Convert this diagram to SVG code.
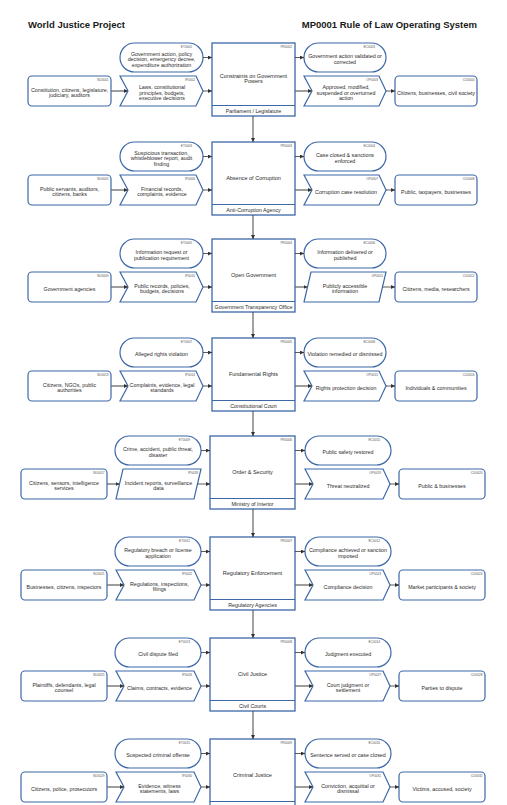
<svg xmlns="http://www.w3.org/2000/svg" width="507" height="805" viewBox="0 0 507 805">
<defs>
<marker id="a" viewBox="0 0 10 10" refX="10" refY="5" markerWidth="4" markerHeight="4" markerUnits="userSpaceOnUse" orient="auto"><path d="M0,0 L10,5 L0,10 z" fill="#333"/></marker>
<style>
.s{fill:#fff;stroke:#3d68a8;stroke-width:1.2}
.p{fill:#fff;stroke:#3d68a8;stroke-width:1.3}
.bl{stroke:#3d68a8;stroke-width:1.1}
text{font-family:"Liberation Sans",Arial,sans-serif;fill:#2b2b2b}
.t{font-size:5.3px;text-anchor:middle}
.pt{font-size:5.5px;text-anchor:middle}
.id{font-size:3.2px;text-anchor:end;fill:#555}
.h{font-size:9.5px;font-weight:bold;fill:#1a1a1a}
.c{stroke:#333;stroke-width:0.8;fill:none;marker-end:url(#a)}
.g{stroke:#6a6a6a;stroke-width:1.3;fill:none;marker-end:url(#a)}
.v{stroke:#444;stroke-width:1;fill:none;marker-end:url(#a)}
</style>
</defs>
<text class="h" x="28" y="27.5">World Justice Project</text>
<text class="h" x="477" y="27.5" text-anchor="end">MP0001 Rule of Law Operating System</text>

<!-- Section 1 -->
<g id="ET0001"><rect class="s" x="120" y="43" width="83" height="29" rx="14.5"/><text class="id" x="192" y="47.6">ET0001</text><text class="t" x="161.5" y="55.5">Government action, policy</text><text class="t" x="161.5" y="61.1">decision, emergency decree,</text><text class="t" x="161.5" y="66.7">expenditure authorization</text></g>
<g id="PR0002"><rect class="p" x="212" y="43" width="83" height="73"/><line class="bl" x1="212" y1="105.5" x2="295" y2="105.5"/><text class="id" x="292" y="47.6">PR0002</text><text class="pt" x="253.5" y="77.7">Constraints on Government</text><text class="pt" x="253.5" y="83.3">Powers</text><text class="t" x="253.5" y="112.6">Parliament / Legislature</text></g>
<g id="EC0003"><rect class="s" x="304" y="43" width="82" height="29" rx="14.5"/><text class="id" x="375" y="47.6">EC0003</text><text class="t" x="345" y="58.3">Government action validated or</text><text class="t" x="345" y="63.9">corrected</text></g>
<g id="SU0001"><rect class="s" x="28" y="76" width="83" height="30" rx="4"/><text class="id" x="108.5" y="80.6">SU0001</text><text class="t" x="69.5" y="91.8">Constitution, citizens, legislature,</text><text class="t" x="69.5" y="97.4">judiciary, auditors</text></g>
<g id="IP0002"><polygon class="s" points="120,76 196,76 203,91 196,106 120,106 128,91"/><text class="id" x="195" y="80.6">IP0002</text><text class="t" x="162" y="89">Laws, constitutional</text><text class="t" x="162" y="94.6">principles, budgets,</text><text class="t" x="162" y="100.2">executive decisions</text></g>
<g id="OP0003"><polygon class="s" points="304,76 379,76 386,91 379,106 304,106 312,91"/><text class="id" x="378" y="80.6">OP0003</text><text class="t" x="346" y="89">Approved, modified,</text><text class="t" x="346" y="94.6">suspended or overturned</text><text class="t" x="346" y="100.2">action</text></g>
<g id="CU0004"><rect class="s" x="395" y="76" width="82" height="30" rx="4"/><text class="id" x="474.5" y="80.6">CU0004</text><text class="t" x="436" y="94.6">Citizens, businesses, civil society</text></g>

<!-- Section 2 -->
<g id="ET0003"><rect class="s" x="120" y="142" width="83" height="29" rx="14.5"/><text class="id" x="192" y="146.6">ET0003</text><text class="t" x="161.5" y="154.5">Suspicious transaction,</text><text class="t" x="161.5" y="160.1">whistleblower report, audit</text><text class="t" x="161.5" y="165.7">finding</text></g>
<g id="PR0003"><rect class="p" x="212" y="142" width="83" height="73"/><line class="bl" x1="212" y1="204.5" x2="295" y2="204.5"/><text class="id" x="292" y="146.6">PR0003</text><text class="pt" x="253.5" y="179.5">Absence of Corruption</text><text class="t" x="253.5" y="211.6">Anti-Corruption Agency</text></g>
<g id="EC0004"><rect class="s" x="304" y="142" width="82" height="29" rx="14.5"/><text class="id" x="375" y="146.6">EC0004</text><text class="t" x="345" y="157.3">Case closed &amp; sanctions</text><text class="t" x="345" y="162.9">enforced</text></g>
<g id="SU0005"><rect class="s" x="28" y="175" width="83" height="30" rx="4"/><text class="id" x="108.5" y="179.6">SU0005</text><text class="t" x="69.5" y="190.8">Public servants, auditors,</text><text class="t" x="69.5" y="196.4">citizens, banks</text></g>
<g id="IP0006"><polygon class="s" points="120,175 196,175 203,190 196,205 120,205 128,190"/><text class="id" x="195" y="179.6">IP0006</text><text class="t" x="162" y="190.8">Financial records,</text><text class="t" x="162" y="196.4">complaints, evidence</text></g>
<g id="OP0007"><polygon class="s" points="304,175 379,175 386,190 379,205 304,205 312,190"/><text class="id" x="378" y="179.6">OP0007</text><text class="t" x="346" y="193.6">Corruption case resolution</text></g>
<g id="CU0008"><rect class="s" x="395" y="175" width="82" height="30" rx="4"/><text class="id" x="474.5" y="179.6">CU0008</text><text class="t" x="436" y="193.6">Public, taxpayers, businesses</text></g>

<!-- Section 3 -->
<g id="ET0005"><rect class="s" x="120" y="239" width="83" height="29" rx="14.5"/><text class="id" x="192" y="243.6">ET0005</text><text class="t" x="161.5" y="254.3">Information request or</text><text class="t" x="161.5" y="259.9">publication requirement</text></g>
<g id="PR0004"><rect class="p" x="212" y="239" width="83" height="73"/><line class="bl" x1="212" y1="301.5" x2="295" y2="301.5"/><text class="id" x="292" y="243.6">PR0004</text><text class="pt" x="253.5" y="276.5">Open Government</text><text class="t" x="253.5" y="308.6">Government Transparency Office</text></g>
<g id="EC0006"><rect class="s" x="304" y="239" width="82" height="29" rx="14.5"/><text class="id" x="375" y="243.6">EC0006</text><text class="t" x="345" y="254.3">Information delivered or</text><text class="t" x="345" y="259.9">published</text></g>
<g id="SU0009"><rect class="s" x="28" y="272" width="83" height="30" rx="4"/><text class="id" x="108.5" y="276.6">SU0009</text><text class="t" x="69.5" y="290.6">Government agencies</text></g>
<g id="IP0010"><polygon class="s" points="120,272 196,272 203,287 196,302 120,302 128,287"/><text class="id" x="195" y="276.6">IP0010</text><text class="t" x="162" y="287.8">Public records, policies,</text><text class="t" x="162" y="293.4">budgets, decisions</text></g>
<g id="OP0011"><polygon class="s" points="311,272 386,272 379,302 304,302"/><text class="id" x="383" y="276.6">OP0011</text><text class="t" x="345" y="287.8">Publicly accessible</text><text class="t" x="345" y="293.4">information</text></g>
<g id="CU0012"><rect class="s" x="395" y="272" width="82" height="30" rx="4"/><text class="id" x="474.5" y="276.6">CU0012</text><text class="t" x="436" y="290.6">Citizens, media, researchers</text></g>

<!-- Section 4 -->
<g id="ET0007"><rect class="s" x="120" y="338" width="83" height="29" rx="14.5"/><text class="id" x="192" y="342.6">ET0007</text><text class="t" x="161.5" y="356.1">Alleged rights violation</text></g>
<g id="PR0005"><rect class="p" x="212" y="338" width="83" height="73"/><line class="bl" x1="212" y1="400.5" x2="295" y2="400.5"/><text class="id" x="292" y="342.6">PR0005</text><text class="pt" x="253.5" y="375.5">Fundamental Rights</text><text class="t" x="253.5" y="407.6">Constitutional Court</text></g>
<g id="EC0008"><rect class="s" x="304" y="338" width="82" height="29" rx="14.5"/><text class="id" x="375" y="342.6">EC0008</text><text class="t" x="345" y="356.1">Violation remedied or dismissed</text></g>
<g id="SU0013"><rect class="s" x="28" y="371" width="83" height="30" rx="4"/><text class="id" x="108.5" y="375.6">SU0013</text><text class="t" x="69.5" y="386.8">Citizens, NGOs, public</text><text class="t" x="69.5" y="392.4">authorities</text></g>
<g id="IP0014"><polygon class="s" points="120,371 196,371 203,386 196,401 120,401 128,386"/><text class="id" x="195" y="375.6">IP0014</text><text class="t" x="162" y="386.8">Complaints, evidence, legal</text><text class="t" x="162" y="392.4">standards</text></g>
<g id="OP0015"><polygon class="s" points="304,371 379,371 386,386 379,401 304,401 312,386"/><text class="id" x="378" y="375.6">OP0015</text><text class="t" x="346" y="389.6">Rights protection decision</text></g>
<g id="CU0016"><rect class="s" x="395" y="371" width="82" height="30" rx="4"/><text class="id" x="474.5" y="375.6">CU0016</text><text class="t" x="436" y="389.6">Individuals &amp; communities</text></g>

<!-- Section 5 -->
<g id="ET0009"><rect class="s" x="115" y="436" width="86" height="29" rx="14.5"/><text class="id" x="190" y="440.6">ET0009</text><text class="t" x="158" y="451.3">Crime, accident, public threat,</text><text class="t" x="158" y="456.9">disaster</text></g>
<g id="PR0006"><rect class="p" x="210" y="436" width="85" height="73"/><line class="bl" x1="210" y1="498.5" x2="295" y2="498.5"/><text class="id" x="292" y="440.6">PR0006</text><text class="pt" x="252.5" y="473.5">Order &amp; Security</text><text class="t" x="252.5" y="505.6">Ministry of Interior</text></g>
<g id="EC0010"><rect class="s" x="305" y="436" width="86" height="29" rx="14.5"/><text class="id" x="380" y="440.6">EC0010</text><text class="t" x="348" y="454.1">Public safety restored</text></g>
<g id="SU0017"><rect class="s" x="21" y="469" width="86" height="30" rx="4"/><text class="id" x="104.5" y="473.6">SU0017</text><text class="t" x="64" y="484.8">Citizens, sensors, intelligence</text><text class="t" x="64" y="490.4">services</text></g>
<g id="IP0018"><polygon class="s" points="123,469 201,469 194,499 116,499"/><text class="id" x="198" y="473.6">IP0018</text><text class="t" x="158.5" y="484.8">Incident reports, surveillance</text><text class="t" x="158.5" y="490.4">data</text></g>
<g id="OP0019"><polygon class="s" points="305,469 383,469 390,484 383,499 305,499 313,484"/><text class="id" x="381" y="473.6">OP0019</text><text class="t" x="348" y="487.6">Threat neutralized</text></g>
<g id="CU0020"><rect class="s" x="399" y="469" width="86" height="30" rx="4"/><text class="id" x="482.5" y="473.6">CU0020</text><text class="t" x="442" y="487.6">Public &amp; businesses</text></g>

<!-- Section 6 -->
<g id="ET0011"><rect class="s" x="115" y="537" width="86" height="29" rx="14.5"/><text class="id" x="190" y="541.6">ET0011</text><text class="t" x="158" y="552.3">Regulatory breach or license</text><text class="t" x="158" y="557.9">application</text></g>
<g id="PR0007"><rect class="p" x="210" y="537" width="85" height="73"/><line class="bl" x1="210" y1="599.5" x2="295" y2="599.5"/><text class="id" x="292" y="541.6">PR0007</text><text class="pt" x="252.5" y="574.5">Regulatory Enforcement</text><text class="t" x="252.5" y="606.6">Regulatory Agencies</text></g>
<g id="EC0012"><rect class="s" x="305" y="537" width="86" height="29" rx="14.5"/><text class="id" x="380" y="541.6">EC0012</text><text class="t" x="348" y="552.3">Compliance achieved or sanction</text><text class="t" x="348" y="557.9">imposed</text></g>
<g id="SU0021"><rect class="s" x="21" y="570" width="86" height="30" rx="4"/><text class="id" x="104.5" y="574.6">SU0021</text><text class="t" x="64" y="588.6">Businesses, citizens, inspectors</text></g>
<g id="IP0022"><polygon class="s" points="116,570 194,570 201,585 194,600 116,600 124,585"/><text class="id" x="192" y="574.6">IP0022</text><text class="t" x="159.5" y="585.8">Regulations, inspections,</text><text class="t" x="159.5" y="591.4">filings</text></g>
<g id="OP0023"><polygon class="s" points="305,570 383,570 390,585 383,600 305,600 313,585"/><text class="id" x="381" y="574.6">OP0023</text><text class="t" x="348" y="588.6">Compliance decision</text></g>
<g id="CU0024"><rect class="s" x="399" y="570" width="86" height="30" rx="4"/><text class="id" x="482.5" y="574.6">CU0024</text><text class="t" x="442" y="588.6">Market participants &amp; society</text></g>

<!-- Section 7 -->
<g id="ET0013"><rect class="s" x="115" y="638" width="86" height="29" rx="14.5"/><text class="id" x="190" y="642.6">ET0013</text><text class="t" x="158" y="656.1">Civil dispute filed</text></g>
<g id="PR0008"><rect class="p" x="210" y="638" width="85" height="73"/><line class="bl" x1="210" y1="700.5" x2="295" y2="700.5"/><text class="id" x="292" y="642.6">PR0008</text><text class="pt" x="252.5" y="675.5">Civil Justice</text><text class="t" x="252.5" y="707.6">Civil Courts</text></g>
<g id="EC0014"><rect class="s" x="305" y="638" width="86" height="29" rx="14.5"/><text class="id" x="380" y="642.6">EC0014</text><text class="t" x="348" y="656.1">Judgment executed</text></g>
<g id="SU0025"><rect class="s" x="21" y="671" width="86" height="30" rx="4"/><text class="id" x="104.5" y="675.6">SU0025</text><text class="t" x="64" y="686.8">Plaintiffs, defendants, legal</text><text class="t" x="64" y="692.4">counsel</text></g>
<g id="IP0026"><polygon class="s" points="116,671 194,671 201,686 194,701 116,701 124,686"/><text class="id" x="192" y="675.6">IP0026</text><text class="t" x="159.5" y="689.6">Claims, contracts, evidence</text></g>
<g id="OP0027"><polygon class="s" points="305,671 383,671 390,686 383,701 305,701 313,686"/><text class="id" x="381" y="675.6">OP0027</text><text class="t" x="348" y="686.8">Court judgment or</text><text class="t" x="348" y="692.4">settlement</text></g>
<g id="CU0028"><rect class="s" x="399" y="671" width="86" height="30" rx="4"/><text class="id" x="482.5" y="675.6">CU0028</text><text class="t" x="442" y="689.6">Parties to dispute</text></g>

<!-- Section 8 -->
<g id="ET0015"><rect class="s" x="115" y="739" width="86" height="29" rx="14.5"/><text class="id" x="190" y="743.6">ET0015</text><text class="t" x="158" y="757.1">Suspected criminal offense</text></g>
<g id="PR0009"><rect class="p" x="210" y="739" width="85" height="73"/><line class="bl" x1="210" y1="801.5" x2="295" y2="801.5"/><text class="id" x="292" y="743.6">PR0009</text><text class="pt" x="252.5" y="776.5">Criminal Justice</text></g>
<g id="EC0016"><rect class="s" x="305" y="739" width="86" height="29" rx="14.5"/><text class="id" x="380" y="743.6">EC0016</text><text class="t" x="348" y="757.1">Sentence served or case closed</text></g>
<g id="SU0029"><rect class="s" x="21" y="772" width="86" height="30" rx="4"/><text class="id" x="104.5" y="776.6">SU0029</text><text class="t" x="64" y="790.6">Citizens, police, prosecutors</text></g>
<g id="IP0030"><polygon class="s" points="116,772 194,772 201,787 194,802 116,802 124,787"/><text class="id" x="192" y="776.6">IP0030</text><text class="t" x="159.5" y="787.8">Evidence, witness</text><text class="t" x="159.5" y="793.4">statements, laws</text></g>
<g id="OP0031"><polygon class="s" points="305,772 383,772 390,787 383,802 305,802 313,787"/><text class="id" x="381" y="776.6">OP0031</text><text class="t" x="348" y="787.8">Conviction, acquittal or</text><text class="t" x="348" y="793.4">dismissal</text></g>
<g id="CU0032"><rect class="s" x="399" y="772" width="86" height="30" rx="4"/><text class="id" x="482.5" y="776.6">CU0032</text><text class="t" x="442" y="790.6">Victims, accused, society</text></g>

<g id="connectors">
<!-- S1 -->
<path class="c" d="M203,57.5 H212"/><path class="c" d="M295,57.5 H304"/>
<path class="g" d="M111,91 H128"/><path class="c" d="M203,91 H212"/><path class="g" d="M295,91 H312"/><path class="c" d="M386,91 H395"/>
<path class="v" d="M253,116 V142"/>
<!-- S2 -->
<path class="c" d="M203,156.5 H212"/><path class="c" d="M295,156.5 H304"/>
<path class="g" d="M111,190 H128"/><path class="c" d="M203,190 H212"/><path class="g" d="M295,190 H312"/><path class="c" d="M386,190 H395"/>
<path class="v" d="M253,215 V239"/>
<!-- S3 -->
<path class="c" d="M203,253.5 H212"/><path class="c" d="M295,253.5 H304"/>
<path class="g" d="M111,287 H128"/><path class="c" d="M203,287 H212"/><path class="g" d="M295,287 H307.5"/><path class="c" d="M382.5,287 H395"/>
<path class="v" d="M253,312 V338"/>
<!-- S4 -->
<path class="c" d="M203,352.5 H212"/><path class="c" d="M295,352.5 H304"/>
<path class="g" d="M111,386 H128"/><path class="c" d="M203,386 H212"/><path class="g" d="M295,386 H312"/><path class="c" d="M386,386 H395"/>
<path class="v" d="M253,411 V436"/>
<!-- S5 -->
<path class="c" d="M201,450.5 H210"/><path class="c" d="M295,450.5 H305"/>
<path class="g" d="M107,484 H119.5"/><path class="c" d="M197.5,484 H210"/><path class="g" d="M295,484 H313"/><path class="c" d="M390,484 H399"/>
<path class="v" d="M253,509 V537"/>
<!-- S6 -->
<path class="c" d="M201,551.5 H210"/><path class="c" d="M295,551.5 H305"/>
<path class="g" d="M107,585 H124"/><path class="c" d="M201,585 H210"/><path class="g" d="M295,585 H313"/><path class="c" d="M390,585 H399"/>
<path class="v" d="M253,610 V638"/>
<!-- S7 -->
<path class="c" d="M201,652.5 H210"/><path class="c" d="M295,652.5 H305"/>
<path class="g" d="M107,686 H124"/><path class="c" d="M201,686 H210"/><path class="g" d="M295,686 H313"/><path class="c" d="M390,686 H399"/>
<path class="v" d="M253,711 V739"/>
<!-- S8 -->
<path class="c" d="M201,753.5 H210"/><path class="c" d="M295,753.5 H305"/>
<path class="g" d="M107,787 H124"/><path class="c" d="M201,787 H210"/><path class="g" d="M295,787 H313"/><path class="c" d="M390,787 H399"/>
</g>
</svg>
